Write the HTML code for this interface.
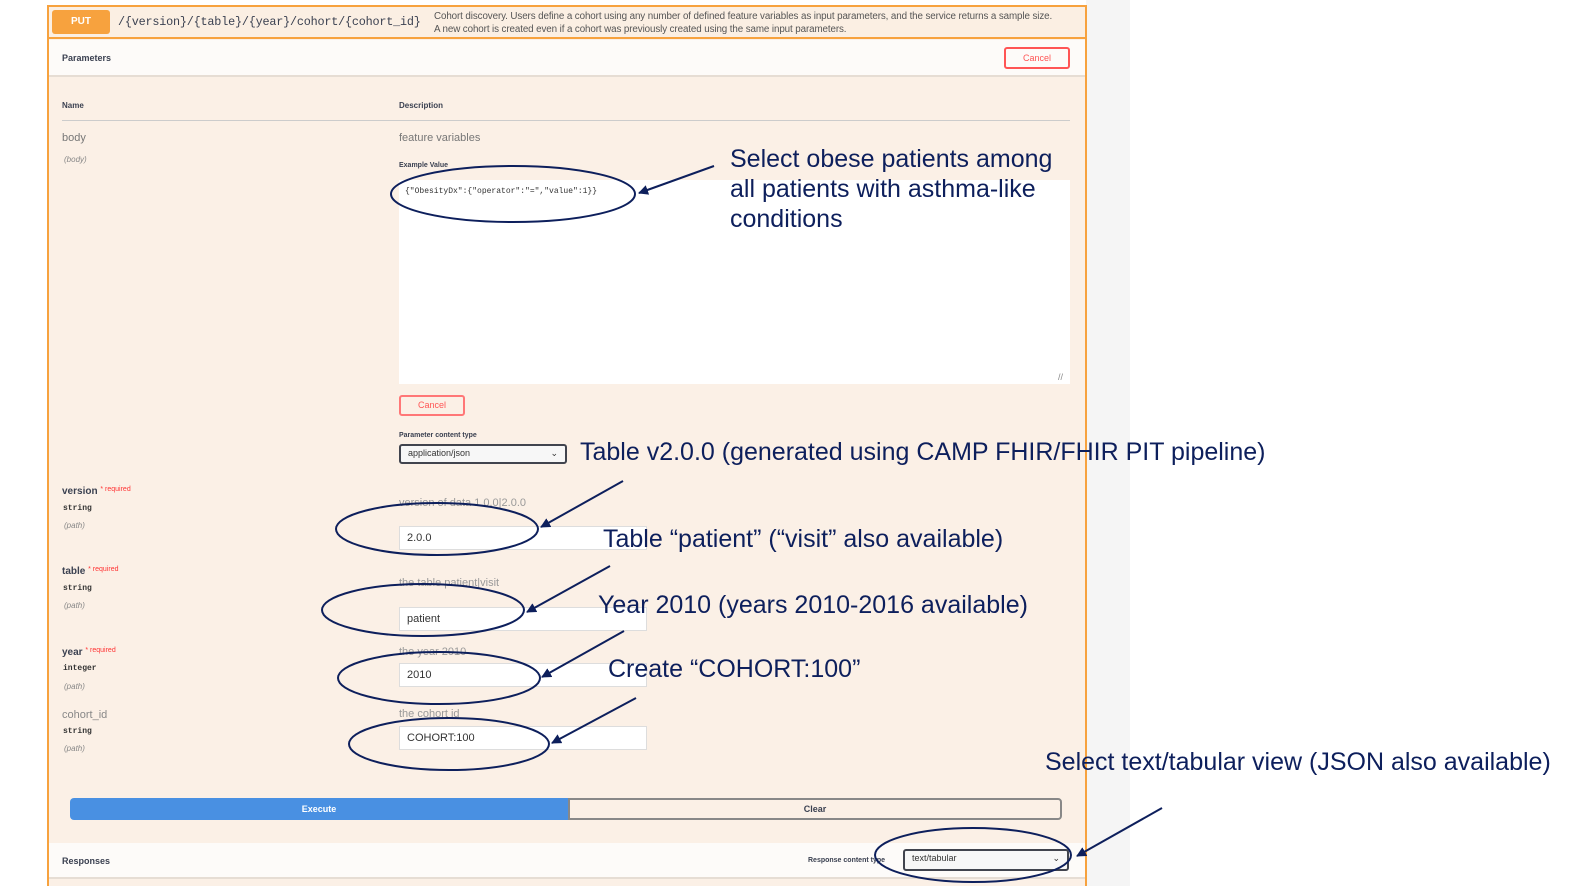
<!DOCTYPE html>
<html><head><meta charset="utf-8"><style>
*{margin:0;padding:0;box-sizing:border-box}
body{width:1571px;height:886px;background:#fff;position:relative;overflow:hidden;font-family:"Liberation Sans",sans-serif}
.a{position:absolute}
.s{font-size:10px;color:#555}
.b{font-weight:bold;color:#3b4151;font-size:9px}
.m{font-family:"Liberation Mono",monospace}
.ann{position:absolute;color:#0d1f5c;font-size:25px;white-space:nowrap}
.inp{position:absolute;background:#fff;border:1px solid #ddd;height:24px;font-size:11px;color:#333;padding:5px 7px}
.sm{font-size:8px;color:#333;font-style:italic}
.req{font-size:7px;color:#f33;font-weight:normal;vertical-align:top}
</style></head><body>
<div class="a" style="left:1086px;top:0;width:44px;height:886px;background:#f5f5f5"></div>
<div class="a" style="left:47px;top:5px;width:1040px;height:881px;border:2px solid #f7a23e;border-bottom:none;background:#fbf0e6"></div>
<div class="a" style="left:49px;top:7px;width:1036px;height:32px;border-bottom:2px solid #f7a23e;background:#fbefe3"></div>
<div class="a" style="left:52px;top:10px;width:58px;height:24px;background:#f7a23e;border-radius:3px;color:#fff;font-size:10px;font-weight:bold;text-align:center;line-height:24px">PUT</div>
<div class="a m" style="left:118px;top:15px;font-size:11.8px;color:#3b4151;letter-spacing:-0.2px">/{version}/{table}/{year}/cohort/{cohort_id}</div>
<div class="a" style="left:434px;top:10px;font-size:9.8px;color:#555;line-height:13px;letter-spacing:-0.1px">Cohort discovery. Users define a cohort using any number of defined feature variables as input parameters, and the service returns a sample size.<br>A new cohort is created even if a cohort was previously created using the same input parameters.</div>
<div class="a" style="left:49px;top:40px;width:1036px;height:37px;background:#fdfbf9;border-bottom:2px solid #e6ddd4"></div>
<div class="a b" style="left:62px;top:53px">Parameters</div>
<div class="a" style="left:1004px;top:47px;width:66px;height:22px;border:2px solid #f55;border-radius:3px;color:#f55;font-size:9px;text-align:center;line-height:18px">Cancel</div>
<div class="a b" style="left:62px;top:101px;font-size:8px">Name</div>
<div class="a b" style="left:399px;top:101px;font-size:8px">Description</div>
<div class="a" style="left:62px;top:120px;width:1008px;height:1px;background:#ccc"></div>
<div class="a s" style="left:62px;top:132px;font-size:11px;color:#777">body</div>
<div class="a sm" style="left:64px;top:155px;color:#888">(body)</div>
<div class="a s" style="left:399px;top:132px;font-size:11px;color:#777">feature variables</div>
<div class="a b" style="left:399px;top:162px;font-size:7px">Example Value</div>
<div class="a" style="left:399px;top:180px;width:671px;height:204px;background:#fff"></div>
<div class="a m" style="left:405px;top:187px;font-size:8px;color:#333">{"ObesityDx":{"operator":"=","value":1}}</div>
<div class="a" style="left:1058px;top:372px;font-size:9px;color:#888">//</div>
<div class="a" style="left:399px;top:395px;width:66px;height:21px;border:2px solid #f77;border-radius:3px;color:#f55;font-size:9px;text-align:center;line-height:17px">Cancel</div>
<div class="a b" style="left:399px;top:432px;font-size:7px">Parameter content type</div>
<div class="a" style="left:399px;top:444px;width:168px;height:20px;border:2px solid #41444e;border-radius:3px;background:#f7f7f7;font-size:9px;color:#333;padding:2px 7px">application/json<span style="float:right">⌄</span></div>

<div class="a b" style="left:62px;top:486px;font-size:10px">version <span class="req">* required</span></div>
<div class="a m" style="left:63px;top:504px;font-size:8px;color:#333;font-weight:bold">string</div>
<div class="a sm" style="left:64px;top:521px;color:#888">(path)</div>
<div class="a s" style="left:399px;top:497px;color:#999;font-size:11px">version of data 1.0.0|2.0.0</div>
<div class="inp" style="left:399px;top:526px;width:248px">2.0.0</div>

<div class="a b" style="left:62px;top:566px;font-size:10px">table <span class="req">* required</span></div>
<div class="a m" style="left:63px;top:584px;font-size:8px;color:#333;font-weight:bold">string</div>
<div class="a sm" style="left:64px;top:601px;color:#888">(path)</div>
<div class="a s" style="left:399px;top:577px;color:#999;font-size:11px">the table patient|visit</div>
<div class="inp" style="left:399px;top:607px;width:248px">patient</div>

<div class="a b" style="left:62px;top:647px;font-size:10px">year <span class="req">* required</span></div>
<div class="a m" style="left:63px;top:664px;font-size:8px;color:#333;font-weight:bold">integer</div>
<div class="a sm" style="left:64px;top:682px;color:#888">(path)</div>
<div class="a s" style="left:399px;top:646px;color:#999;font-size:11px">the year 2010</div>
<div class="inp" style="left:399px;top:663px;width:248px">2010</div>

<div class="a s" style="left:62px;top:709px;color:#888;font-size:11px">cohort_id</div>
<div class="a m" style="left:63px;top:727px;font-size:8px;color:#333;font-weight:bold">string</div>
<div class="a sm" style="left:64px;top:744px;color:#888">(path)</div>
<div class="a s" style="left:399px;top:708px;color:#999;font-size:11px">the cohort id</div>
<div class="inp" style="left:399px;top:726px;width:248px">COHORT:100</div>

<div class="a" style="left:70px;top:798px;width:498px;height:22px;background:#4990e2;border-radius:4px 0 0 4px;color:#fff;font-size:9px;font-weight:bold;text-align:center;line-height:22px">Execute</div>
<div class="a" style="left:568px;top:798px;width:494px;height:22px;border:2px solid #888;border-radius:0 4px 4px 0;color:#3b4151;font-size:9px;font-weight:bold;text-align:center;line-height:18px">Clear</div>

<div class="a" style="left:49px;top:843px;width:1036px;height:36px;background:#fdfbf9;border-bottom:2px solid #e6ddd4"></div>
<div class="a b" style="left:62px;top:856px">Responses</div>
<div class="a b" style="left:808px;top:857px;font-size:7px">Response content type</div>
<div class="a" style="left:903px;top:849px;width:166px;height:22px;border:2px solid #41444e;border-radius:3px;background:#f7f7f7;font-size:9px;color:#333;padding:2px 7px">text/tabular<span style="float:right">⌄</span></div>

<div class="ann" style="left:730px;top:144px;line-height:30px">Select obese patients among<br>all patients with asthma-like<br>conditions</div>
<div class="ann" style="left:580px;top:438px">Table v2.0.0 (generated using CAMP FHIR/FHIR PIT pipeline)</div>
<div class="ann" style="left:603px;top:525px">Table “patient” (“visit” also available)</div>
<div class="ann" style="left:598px;top:591px">Year 2010 (years 2010-2016 available)</div>
<div class="ann" style="left:608px;top:655px">Create “COHORT:100”</div>
<div class="ann" style="left:1045px;top:748px">Select text/tabular view (JSON also available)</div>

<svg class="a" style="left:0;top:0" width="1571" height="886">
<defs><marker id="ar" markerWidth="10" markerHeight="10" refX="9" refY="5" orient="auto" markerUnits="userSpaceOnUse"><path d="M0,0 L10,5 L0,10 z" fill="#0d1f5c"/></marker></defs>
<g fill="none" stroke="#0d1f5c" stroke-width="2">
<ellipse cx="513" cy="194" rx="122" ry="28"/>
<ellipse cx="437" cy="529" rx="101" ry="26"/>
<ellipse cx="423" cy="610" rx="101" ry="26"/>
<ellipse cx="439" cy="678" rx="101" ry="26"/>
<ellipse cx="449" cy="744" rx="100" ry="26"/>
<ellipse cx="973" cy="855" rx="98" ry="27"/>
<line x1="714" y1="166" x2="639" y2="193" marker-end="url(#ar)"/>
<line x1="623" y1="481" x2="541" y2="527" marker-end="url(#ar)"/>
<line x1="610" y1="566" x2="527" y2="612" marker-end="url(#ar)"/>
<line x1="624" y1="631" x2="542" y2="677" marker-end="url(#ar)"/>
<line x1="636" y1="698" x2="552" y2="743" marker-end="url(#ar)"/>
<line x1="1162" y1="808" x2="1077" y2="856" marker-end="url(#ar)"/>
</g></svg>
</body></html>
